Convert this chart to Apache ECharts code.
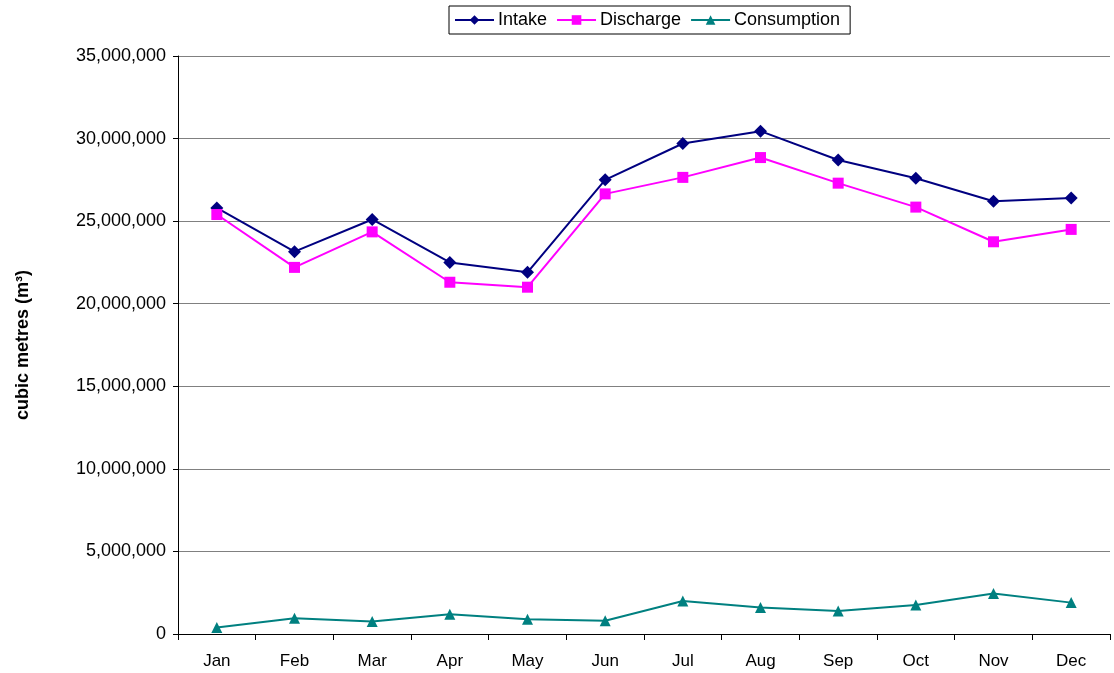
<!DOCTYPE html>
<html>
<head>
<meta charset="UTF-8">
<title>Intake, Discharge, Consumption</title>
<script src="https://cdn.jsdelivr.net/npm/echarts@6/dist/echarts.min.js"></script>
<style>
  body { margin: 0; padding: 0; background: #fff; }
  #chart { width: 1114px; height: 673px; }
</style>
</head>
<body>
<div id="chart"></div>
<script>
  // monthly values, cubic metres
  var months = ['Jan', 'Feb', 'Mar', 'Apr', 'May', 'Jun', 'Jul', 'Aug', 'Sep', 'Oct', 'Nov', 'Dec'];
  var intake = [25800000, 23150000, 25100000, 22500000, 21900000, 27500000, 29700000, 30450000, 28700000, 27600000, 26200000, 26400000];
  var discharge = [25400000, 22200000, 24350000, 21300000, 21000000, 26650000, 27650000, 28850000, 27300000, 25850000, 23750000, 24500000];
  var consumption = [400000, 950000, 750000, 1200000, 900000, 800000, 2000000, 1600000, 1400000, 1750000, 2450000, 1900000];

  var chart = echarts.init(document.getElementById('chart'));
  var font = 'Liberation Sans, Arial, sans-serif';

  function fmt(v) {
    return v.toString().replace(/\B(?=(\d{3})+(?!\d))/g, ',');
  }

  chart.setOption({
    animation: false,
    textStyle: { fontFamily: font, color: '#000' },
    legend: {
      top: 6,
      left: 449,
      itemWidth: 39,
      itemHeight: 12,
      itemGap: 9,
      padding: [5, 10, 5, 5],
      borderColor: '#000',
      borderWidth: 1,
      borderRadius: 0,
      textStyle: { fontSize: 18, color: '#000', fontFamily: font, padding: [0, 0, 0, -1] },
      data: ['Intake', 'Discharge', 'Consumption']
    },
    grid: { left: 178, right: 4, top: 56, bottom: 39 },
    xAxis: {
      type: 'category',
      data: months,
      boundaryGap: true,
      axisLine: { lineStyle: { color: '#000' } },
      axisTick: { show: true, length: 6, alignWithLabel: false, lineStyle: { color: '#000' } },
      axisLabel: { fontSize: 17, color: '#000', margin: 19, fontFamily: font }
    },
    yAxis: {
      type: 'value',
      min: 0,
      max: 35000000,
      interval: 5000000,
      name: 'cubic metres (m³)',
      nameLocation: 'middle',
      nameGap: 146,
      nameTextStyle: { fontSize: 18, fontWeight: 'bold', color: '#000', fontFamily: font },
      axisLine: { show: true, lineStyle: { color: '#000' } },
      axisTick: { show: true, length: 5, lineStyle: { color: '#000' } },
      axisLabel: { fontSize: 18, color: '#000', margin: 12, fontFamily: font, formatter: fmt },
      splitLine: { lineStyle: { color: '#808080', width: 1 } }
    },
    series: [
      {
        name: 'Intake',
        type: 'line',
        data: intake,
        symbol: 'diamond',
        symbolSize: 13,
        color: '#000080',
        lineStyle: { width: 2, color: '#000080' },
        itemStyle: { color: '#000080' }
      },
      {
        name: 'Discharge',
        type: 'line',
        data: discharge,
        symbol: 'rect',
        symbolSize: 11,
        color: '#FF00FF',
        lineStyle: { width: 2, color: '#FF00FF' },
        itemStyle: { color: '#FF00FF' }
      },
      {
        name: 'Consumption',
        type: 'line',
        data: consumption,
        symbol: 'triangle',
        symbolSize: 11,
        color: '#008080',
        lineStyle: { width: 2, color: '#008080' },
        itemStyle: { color: '#008080' }
      }
    ]
  });
</script>
</body>
</html>
